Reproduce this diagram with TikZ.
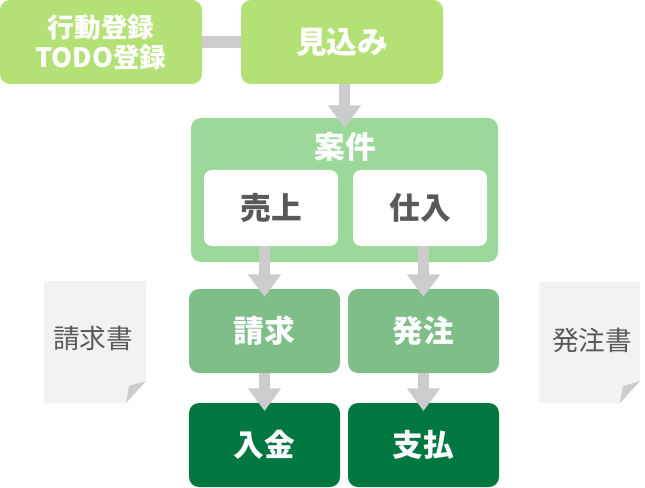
\documentclass[tikz,border=0pt]{standalone}
\usepackage{fontspec}
\setmainfont{Noto Sans CJK JP}
\usetikzlibrary{arrows.meta}
\definecolor{leaf}{HTML}{B3E176}
\definecolor{case}{HTML}{9CD89A}
\definecolor{mid}{HTML}{7FBD89}
\definecolor{deep}{HTML}{007640}
\definecolor{bar}{HTML}{CCCCCC}
\definecolor{paper}{HTML}{F2F2F2}
\definecolor{ink}{HTML}{595959}
\begin{document}
\begin{tikzpicture}[x=0.75pt, y=-0.75pt,
  every node/.style={outer sep=0pt, inner sep=0pt, align=center},
  box/.style={rounded corners=7.5pt, text=white, font=\bfseries\fontsize{23}{26}\selectfont, minimum width=113.25pt, minimum height=63pt},
  inbox/.style={fill=white, rounded corners=6pt, text=ink, font=\bfseries\fontsize{23}{26}\selectfont, minimum width=100.5pt, minimum height=57pt},
  flow/.style={draw=bar, line width=8.25pt, -{Triangle[width=24pt,length=17pt]}, shorten >=-6pt},
  doc/.style={text=ink, font=\fontsize{20}{22}\selectfont}]

\useasboundingbox (0,0) rectangle (645,488);

% top row
\node[box, fill=leaf, minimum width=151.5pt, font=\bfseries\fontsize{20}{22.5}\selectfont] (koudou) at (101,42) {行動登録\\TODO登録};
\node[box, fill=leaf, minimum width=151.5pt] (mikomi) at (342,42) {見込み};

% case block
\node[box, fill=case, minimum width=230.25pt, minimum height=108pt] (anken) at (344.5,190) {};
\node[text=white, font=\bfseries\fontsize{23}{26}\selectfont] (ankenlabel) at (345,147) {案件};
\node[inbox] (uriage) at (271,208) {売上};
\node[inbox] (shiire) at (420,208) {仕入};

% lower rows
\node[box, fill=mid] (seikyu) at (264.5,331) {請求};
\node[box, fill=mid] (hacchu) at (423.5,331) {発注};
\node[box, fill=deep] (nyukin) at (264.5,445) {入金};
\node[box, fill=deep] (shiharai) at (423.5,445) {支払};

% connectors
\draw[draw=bar, line width=9pt] (koudou.east) -- (mikomi.west);
\draw[flow, shorten >=-7.5pt] (anken |- mikomi.south) -- (anken.north);
\draw[flow] (seikyu |- uriage.south) -- (seikyu.north);
\draw[flow] (hacchu |- shiire.south) -- (hacchu.north);
\draw[flow] (seikyu.south) -- (nyukin.north);
\draw[flow] (hacchu.south) -- (shiharai.north);

% documents
\fill[paper] (44,281) -- (146,281) -- (146,381) -- (126,403) -- (44,403) -- cycle;
\fill[bar] (146,381) -- (129,386) -- (126,403) -- cycle;
\node[doc] (seikyusho) at (93,338) {請求書};
\fill[paper] (539,282) -- (640,282) -- (640,381) -- (620,403) -- (539,403) -- cycle;
\fill[bar] (640,381) -- (623,386) -- (620,403) -- cycle;
\node[doc] (hacchusho) at (592,340) {発注書};
\end{tikzpicture}
\end{document}
